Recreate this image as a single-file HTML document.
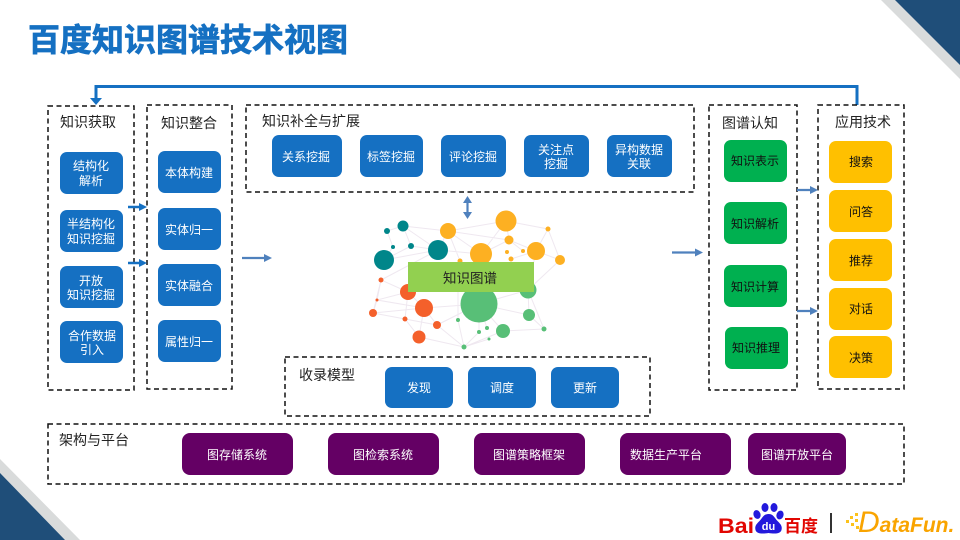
<!DOCTYPE html>
<html lang="zh"><head><meta charset="utf-8"><title>百度知识图谱技术视图</title>
<style>
html,body{margin:0;padding:0;background:#fff;width:960px;height:540px;overflow:hidden}
svg{display:block}
text{font-family:"Liberation Sans","Noto Sans CJK SC",sans-serif}
.l{font-size:14px;fill:#222;text-anchor:middle}
.w{font-size:12px;fill:#fff;text-anchor:middle}
.k{font-size:12px;fill:#111;text-anchor:middle}
.d{fill:none;stroke:#111;stroke-width:1.5;stroke-dasharray:5 3.5}
.b{fill:#1570c2}.g{fill:#00b050}.y{fill:#ffc000}.p{fill:#640064}
.e{stroke:#efe8f0;stroke-width:1;fill:none}
.a{stroke:#4f81bd;stroke-width:2.2;fill:none}
.h{fill:#4f81bd}
</style></head><body>
<svg width="960" height="540" viewBox="0 0 960 540" xmlns="http://www.w3.org/2000/svg">
<polygon points="881,0 960,0 960,79" fill="#d9dbdb"/>
<polygon points="895,0 960,0 960,65" fill="#1f4e79"/>
<polygon points="0,459 0,540 80,540" fill="#d9dbdb"/>
<polygon points="0,473 0,540 65,540" fill="#1f4e79"/>

<text x="28" y="51" font-size="32" font-weight="700" fill="#1570c2" stroke="#1570c2" stroke-width="0.7">百度知识图谱技术视图</text>

<path d="M857 105V86.500H96V100" fill="none" stroke="#1570c2" stroke-width="3"/>
<polygon points="90,98 102,98 96,105" fill="#1570c2"/>

<rect class="d" x="48" y="106" width="86" height="284"/>
<rect class="d" x="147" y="105" width="85" height="284"/>
<rect class="d" x="246" y="105" width="448" height="87"/>
<rect class="d" x="709" y="105" width="88" height="285"/>
<rect class="d" x="818" y="105" width="86" height="284"/>
<rect class="d" x="285" y="357" width="365" height="59"/>
<rect class="d" x="48" y="424" width="856" height="60"/>

<text class="l" x="88" y="127">知识获取</text>
<text class="l" x="189" y="128">知识整合</text>
<text class="l" x="311" y="126">知识补全与扩展</text>
<text class="l" x="750" y="128">图谱认知</text>
<text class="l" x="863" y="127">应用技术</text>
<text class="l" x="327" y="380">收录模型</text>
<text class="l" x="94" y="445">架构与平台</text>

<!-- column 1 -->
<rect class="b" x="60" y="152" width="63" height="42" rx="7"/>
<text class="w" x="91" y="170">结构化</text><text class="w" x="91" y="185">解析</text>
<rect class="b" x="60" y="210" width="63" height="42" rx="7"/>
<text class="w" x="91" y="228">半结构化</text><text class="w" x="91" y="243">知识挖掘</text>
<rect class="b" x="60" y="266" width="63" height="42" rx="7"/>
<text class="w" x="91" y="285">开放</text><text class="w" x="91" y="299">知识挖掘</text>
<rect class="b" x="60" y="321" width="63" height="42" rx="7"/>
<text class="w" x="92" y="340">合作数据</text><text class="w" x="92" y="354">引入</text>
<!-- column 2 -->
<rect class="b" x="158" y="151" width="63" height="42" rx="7"/><text class="w" x="189" y="177">本体构建</text>
<rect class="b" x="158" y="208" width="63" height="42" rx="7"/><text class="w" x="189" y="234">实体归一</text>
<rect class="b" x="158" y="264" width="63" height="42" rx="7"/><text class="w" x="189" y="290">实体融合</text>
<rect class="b" x="158" y="320" width="63" height="42" rx="7"/><text class="w" x="189" y="346">属性归一</text>
<!-- top row -->
<rect class="b" x="272" y="135" width="70" height="42" rx="7"/><text class="w" x="306" y="161">关系挖掘</text>
<rect class="b" x="360" y="135" width="63" height="42" rx="7"/><text class="w" x="391" y="161">标签挖掘</text>
<rect class="b" x="441" y="135" width="65" height="42" rx="7"/><text class="w" x="473" y="161">评论挖掘</text>
<rect class="b" x="524" y="135" width="65" height="42" rx="7"/><text class="w" x="556" y="154">关注点</text><text class="w" x="556" y="168">挖掘</text>
<rect class="b" x="607" y="135" width="65" height="42" rx="7"/><text class="w" x="639" y="154">异构数据</text><text class="w" x="639" y="168">关联</text>
<!-- model row -->
<rect class="b" x="385" y="367" width="68" height="41" rx="7"/><text class="w" x="419" y="392">发现</text>
<rect class="b" x="468" y="367" width="68" height="41" rx="7"/><text class="w" x="502" y="392">调度</text>
<rect class="b" x="551" y="367" width="68" height="41" rx="7"/><text class="w" x="585" y="392">更新</text>
<!-- green -->
<rect class="g" x="724" y="140" width="63" height="42" rx="7"/><text class="k" x="755" y="165">知识表示</text>
<rect class="g" x="724" y="202" width="63" height="42" rx="7"/><text class="k" x="755" y="228">知识解析</text>
<rect class="g" x="724" y="265" width="63" height="42" rx="7"/><text class="k" x="755" y="291">知识计算</text>
<rect class="g" x="725" y="327" width="63" height="42" rx="7"/><text class="k" x="756" y="352">知识推理</text>
<!-- yellow -->
<rect class="y" x="829" y="141" width="63" height="42" rx="7"/><text class="k" x="861" y="166">搜索</text>
<rect class="y" x="829" y="190" width="63" height="42" rx="7"/><text class="k" x="861" y="216">问答</text>
<rect class="y" x="829" y="239" width="63" height="42" rx="7"/><text class="k" x="861" y="265">推荐</text>
<rect class="y" x="829" y="288" width="63" height="42" rx="7"/><text class="k" x="861" y="313">对话</text>
<rect class="y" x="829" y="336" width="63" height="42" rx="7"/><text class="k" x="861" y="362">决策</text>
<!-- purple -->
<rect class="p" x="182" y="433" width="111" height="42" rx="8"/><text class="w" x="237" y="459">图存储系统</text>
<rect class="p" x="328" y="433" width="111" height="42" rx="8"/><text class="w" x="383" y="459">图检索系统</text>
<rect class="p" x="474" y="433" width="111" height="42" rx="8"/><text class="w" x="529" y="459">图谱策略框架</text>
<rect class="p" x="620" y="433" width="111" height="42" rx="8"/><text class="w" x="666" y="459">数据生产平台</text>
<rect class="p" x="748" y="433" width="98" height="42" rx="8"/><text class="w" x="797" y="459">图谱开放平台</text>

<!-- arrows -->
<path d="M128 207H140M128 263H140" fill="none" stroke="#1570c2" stroke-width="2.500"/>
<path fill="#1570c2" d="M139 203l8 4-8 4zM139 259l8 4-8 4z"/>
<path class="a" d="M242 258H265M672 252.500H696M797 190H811M797 311H811"/>
<path class="h" d="M264 254l8 4-8 4zM695 248.500l8 4-8 4zM810 186l8 4-8 4zM810 307l8 4-8 4z"/>
<path class="a" d="M467.500 200V215" stroke-width="3"/>
<path class="h" d="M463 203l4.500-7 4.500 7zM463 212l4.500 7 4.500-7z"/>

<!-- network edges -->
<path class="e" d="M403 226L448 231L506 221L548 229L560 260L536 251L548 229M387 231L393 247L384 260M387 231L403 226L411 246L438 250L448 231L481 254L506 221M448 231L509 240L536 251L511 259M506 221L509 240L481 254M384 260L411 246M384 260L438 250M403 226L438 250M381 280L438 250M381 280L377 300L373 313L405 319L419 337L464 347L437 325L424 308L408 292L381 280M377 300L408 292M377 300L424 308M373 313L424 308M405 319L408 292M405 319L437 325M419 337L424 308M424 308L479 304M437 325L479 304M458 320L464 347L479 332M464 347L489 339M458 320V262M479 304L529 315L544 329L528 290M479 304L503 331L544 329M479 304L528 290M529 315L528 290M560 260L528 290M536 251L528 290M481 254L479 304M448 231L460 261M481 254L438 250M479 304L487 328M479 304L479 332M503 331L464 347M408 292L448 262M373 313L381 280M548 229L536 251M523 251L509 240"/>
<!-- nodes -->
<g fill="#00868a">
<circle cx="403" cy="226" r="5.500"/><circle cx="387" cy="231" r="3"/><circle cx="393" cy="247" r="2"/><circle cx="411" cy="246" r="3"/><circle cx="438" cy="250" r="10"/><circle cx="384" cy="260" r="10"/>
</g>
<g fill="#fdb022">
<circle cx="448" cy="231" r="8"/><circle cx="506" cy="221" r="10.500"/><circle cx="548" cy="229" r="2.500"/><circle cx="509" cy="240" r="4.500"/><circle cx="481" cy="254" r="11"/><circle cx="536" cy="251" r="9"/><circle cx="523" cy="251" r="2"/><circle cx="507" cy="252" r="2"/><circle cx="511" cy="259" r="2.500"/><circle cx="560" cy="260" r="5"/><circle cx="460" cy="261" r="2.500"/>
</g>
<g fill="#f4602b">
<circle cx="381" cy="280" r="2.500"/><circle cx="408" cy="292" r="8"/><circle cx="377" cy="300" r="1.500"/><circle cx="373" cy="313" r="4"/><circle cx="424" cy="308" r="9"/><circle cx="405" cy="319" r="2.500"/><circle cx="437" cy="325" r="4"/><circle cx="419" cy="337" r="6.500"/>
</g>
<g fill="#58bf77">
<circle cx="479" cy="304" r="18.500"/><circle cx="528" cy="290" r="8.500"/><circle cx="529" cy="315" r="6"/><circle cx="503" cy="331" r="7"/><circle cx="544" cy="329" r="2.500"/><circle cx="487" cy="328" r="2"/><circle cx="479" cy="332" r="2"/><circle cx="489" cy="339" r="1.500"/><circle cx="464" cy="347" r="2.500"/><circle cx="458" cy="320" r="2"/>
</g>
<rect x="408" y="262" width="126" height="30" fill="#92d050"/>
<text x="470" y="283" font-size="13.500" fill="#222" text-anchor="middle">知识图谱</text>

<!-- logos -->
<text x="718" y="533" font-size="21" font-weight="700" fill="#e10601" textLength="36" lengthAdjust="spacingAndGlyphs">Bai</text>
<g fill="#2319dc">
<ellipse cx="757" cy="514.500" rx="3.500" ry="4.500" transform="rotate(-20 757 514.500)"/><ellipse cx="765" cy="507.500" rx="3.500" ry="4.500"/><ellipse cx="774" cy="507.500" rx="3.500" ry="4.500"/><ellipse cx="780" cy="515" rx="3.500" ry="4.500" transform="rotate(20 780 515)"/>
<path d="M768.500 514c-5 0-6 4-9 7-3 3-5 5-4 9 1 4 7 4 13 3 6 1 12 1 13-3 1-4-1-6-4-9-3-3-4-7-9-7z"/>
</g>
<text x="768.500" y="530" font-size="11" font-weight="700" fill="#fff" text-anchor="middle">du</text>
<text x="784" y="532" font-size="17" font-weight="700" fill="#e10601">百度</text>
<rect x="830" y="513" width="2" height="20" fill="#333"/>
<g fill="#fcc21b">
<rect x="846" y="520" width="3" height="3"/><rect x="850" y="516" width="3" height="3"/><rect x="851" y="523" width="3" height="3"/><rect x="855" y="519" width="3" height="3"/><rect x="856" y="526" width="3" height="3"/><rect x="855" y="513" width="3" height="3"/>
</g>
<text x="858" y="532" font-size="21" font-style="italic" font-weight="700" fill="#f9a400"><tspan font-size="30" font-weight="400">D</tspan><tspan>ataFun.</tspan></text>
</svg>
</body></html>
